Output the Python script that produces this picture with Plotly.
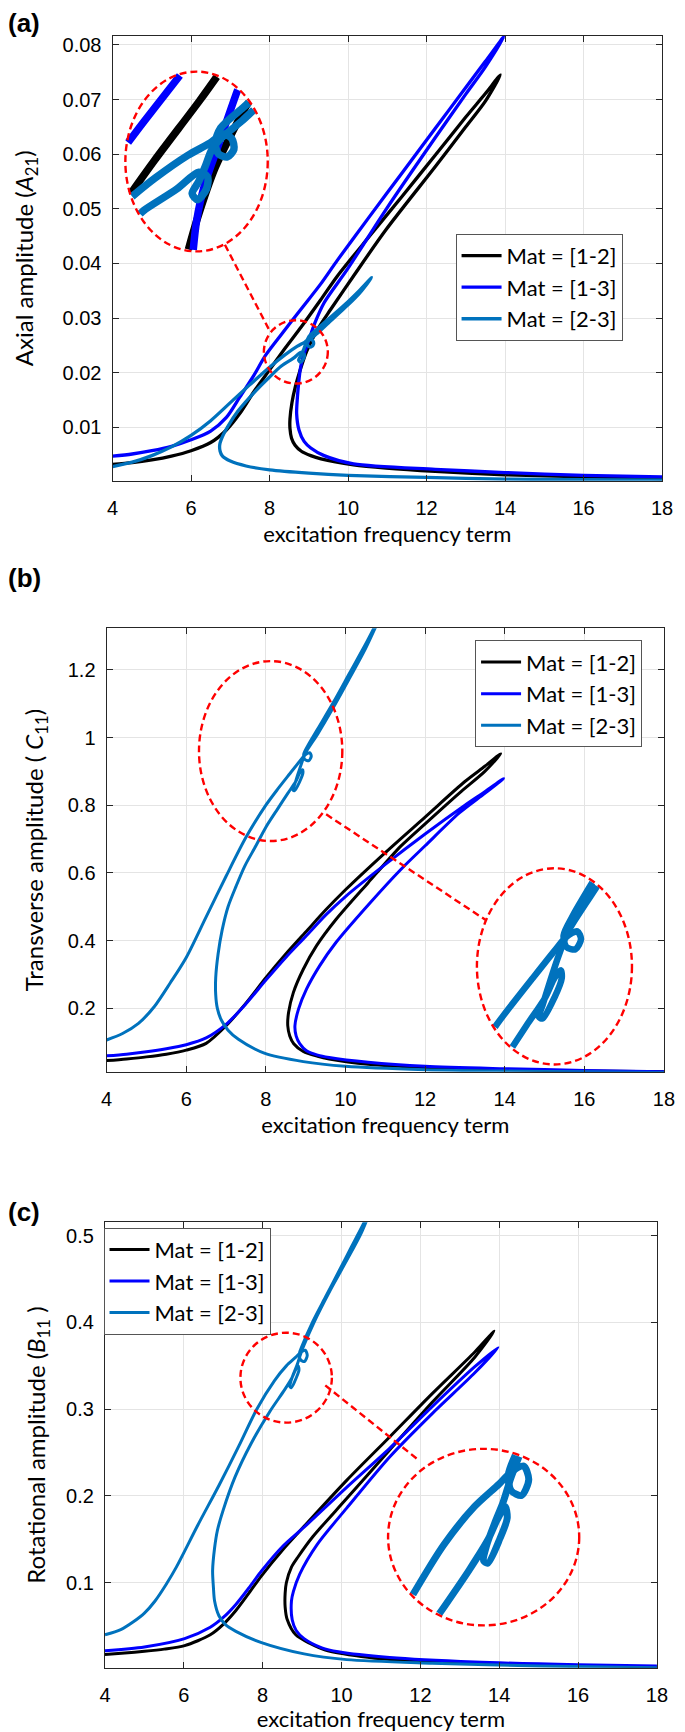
import plotly.graph_objects as go

W, H = 685, 1732

# ---------------- data : panel (a) axial amplitude A21 ----------------
a12_x = [4, 4.5, 5, 5.5, 6, 6.5, 6.9, 7.24, 7.6, 8.0, 8.4, 8.81, 9.3, 9.73, 10.56, 11.39, 12.22, 13.0, 13.5, 13.88,
         13.5, 13.0, 12.22, 10.97, 10.14, 9.56, 9.23, 8.95, 8.78, 8.66, 8.57,
         8.52, 8.52, 8.56, 8.65, 8.81, 9.05, 9.31, 10.14, 10.97, 12.22, 14, 16, 18]
a12_y = [0.0032, 0.0035, 0.0040, 0.0047, 0.0057, 0.0072, 0.0095, 0.0125, 0.0165, 0.0205, 0.0245, 0.0284, 0.0333, 0.0377, 0.0451, 0.0524, 0.0598, 0.0668, 0.0711, 0.0745,
         0.0697, 0.0650, 0.0577, 0.0462, 0.0377, 0.0316, 0.0280, 0.0240, 0.0205, 0.0175, 0.0145,
         0.0115, 0.0098, 0.0080, 0.0067, 0.0056, 0.0048, 0.0042, 0.0031, 0.0025, 0.0019, 0.0013, 0.0009, 0.0006]

a13_x = [4, 4.5, 5, 5.5, 6, 6.5, 6.9, 7.24, 7.6, 7.9, 8.3, 8.81, 9.3, 9.73, 10.56, 11.39, 12.22, 13.0, 13.5, 13.97,
         13.5, 13.0, 12.22, 10.97, 9.98, 9.39, 9.15, 8.98, 8.85, 8.78, 8.74, 8.71,
         8.69, 8.75, 8.88, 9.05, 9.39, 10.14, 12.22, 14, 16, 18]
a13_y = [0.0047, 0.0051, 0.0057, 0.0065, 0.0077, 0.0093, 0.0118, 0.0155, 0.0195, 0.0232, 0.0270, 0.0317, 0.0362, 0.0406, 0.0487, 0.0567, 0.0647, 0.0722, 0.0770, 0.0815,
         0.0760, 0.0710, 0.0630, 0.0499, 0.0389, 0.0328, 0.0290, 0.0255, 0.0228, 0.0205, 0.0180, 0.0155,
         0.0125, 0.0095, 0.0074, 0.0062, 0.0048, 0.0033, 0.0023, 0.0017, 0.0012, 0.0009]

a23_x = [4, 4.5, 5, 5.5, 6, 6.5, 7, 7.5, 8, 8.4, 8.7, 8.9,
         9.02, 9.1, 9.12, 9.06, 8.98, 8.95,
         9.0, 9.2, 9.5, 10.0, 10.3, 10.6,
         10.3, 10.0, 9.5, 9.2, 9.0, 8.92,
         8.86, 8.80, 8.74, 8.79, 8.87, 8.88, 8.80,
         8.6, 8.3, 8.0, 7.6, 7.2, 6.95, 6.8, 6.73, 6.74, 6.8, 7.0, 7.4, 8, 9, 10, 12, 14, 16, 18]
a23_y = [0.0028, 0.0036, 0.0048, 0.0064, 0.0085, 0.0112, 0.0145, 0.0178, 0.0210, 0.0233, 0.0248, 0.0256,
         0.0262, 0.0259, 0.0252, 0.0247, 0.0249, 0.0256,
         0.0266, 0.0279, 0.0298, 0.0330, 0.0351, 0.0374,
         0.0346, 0.0324, 0.0291, 0.0271, 0.0259, 0.0252,
         0.0241, 0.0231, 0.0223, 0.0219, 0.0226, 0.0234, 0.0237,
         0.0226, 0.0212, 0.0192, 0.0163, 0.0130, 0.0103, 0.0083, 0.0068, 0.0056, 0.0047, 0.0038, 0.0029, 0.0022, 0.0016, 0.0012, 0.0008, 0.0005, 0.0004, 0.0003]

# ---------------- data : panel (b) transverse amplitude C11 ----------------
b12_x = [4, 4.5, 5, 5.5, 6, 6.5, 7, 7.5, 8, 8.5, 9, 9.5, 10, 11, 12, 13, 13.5, 13.9,
         13.5, 12.86, 12.0, 11.39, 10.57, 9.76, 9.27, 8.94, 8.69, 8.57, 8.55, 8.6, 8.7, 8.94, 9.3, 9.59, 10.57, 12, 14, 16, 18]
b12_y = [0.045, 0.050, 0.056, 0.064, 0.076, 0.096, 0.148, 0.215, 0.290, 0.360, 0.425, 0.490, 0.550, 0.660, 0.765, 0.870, 0.915, 0.952,
         0.900, 0.836, 0.745, 0.679, 0.571, 0.462, 0.384, 0.315, 0.246, 0.187, 0.148, 0.118, 0.095, 0.072, 0.058, 0.050, 0.034, 0.024, 0.018, 0.014, 0.012]

b13_x = [4, 4.5, 5, 5.5, 6, 6.5, 7, 7.5, 8, 8.5, 9, 9.5, 10, 11, 12, 13, 13.5, 13.97,
         13.5, 12.86, 12.0, 11.39, 10.57, 9.76, 9.35, 9.02, 8.82, 8.73, 8.76, 8.85, 9.02, 9.3, 9.59, 10.57, 12, 14, 16, 18]
b13_y = [0.059, 0.064, 0.071, 0.080, 0.092, 0.112, 0.152, 0.213, 0.283, 0.350, 0.412, 0.475, 0.530, 0.625, 0.715, 0.800, 0.840, 0.879,
         0.835, 0.777, 0.680, 0.610, 0.505, 0.394, 0.325, 0.256, 0.197, 0.148, 0.118, 0.095, 0.074, 0.061, 0.054, 0.040, 0.028, 0.021, 0.016, 0.012]

b23_x = [4, 4.4, 4.8, 5.2, 5.6, 6.0, 6.5, 7.0, 7.5, 8.0, 8.3, 8.6, 8.85,
         8.98, 9.1, 9.14, 9.08, 8.98, 8.95,
         9.05, 9.3, 9.7, 10.1, 10.5, 10.9,
         10.5, 10.1, 9.7, 9.3, 9.0, 8.9,
         8.8, 8.72, 8.68, 8.72, 8.85, 8.93, 8.92, 8.85, 8.75,
         8.55, 8.3, 8.0, 7.75, 7.47, 7.25, 7.05, 6.9, 6.8, 6.74, 6.74, 6.78, 6.88, 7.05, 7.31, 7.96, 8.94, 10, 12, 14, 16, 18]
b23_y = [0.106, 0.125, 0.155, 0.205, 0.275, 0.350, 0.470, 0.590, 0.705, 0.800, 0.848, 0.893, 0.930,
         0.948, 0.955, 0.945, 0.932, 0.935, 0.950,
         0.975, 1.025, 1.105, 1.190, 1.275, 1.365,
         1.262, 1.175, 1.090, 1.010, 0.955, 0.925,
         0.890, 0.860, 0.845, 0.843, 0.870, 0.895, 0.905, 0.895, 0.870,
         0.835, 0.790, 0.735, 0.680, 0.620, 0.560, 0.500, 0.430, 0.360, 0.290, 0.240, 0.200, 0.165, 0.135, 0.108, 0.067, 0.042, 0.028, 0.018, 0.014, 0.012, 0.010]

# ---------------- data : panel (c) rotational amplitude B11 ----------------
c12_x = [4, 4.5, 5, 5.5, 6.02, 6.67, 7.0, 7.32, 7.65, 7.97, 8.51, 9.05, 10.13, 11.22, 12.3, 13.38, 13.87,
         13.38, 12.3, 11.22, 10.13, 9.27, 8.9, 8.73, 8.6, 8.57, 8.57, 8.62, 8.84, 9.2, 9.59, 10.5, 11.22, 13.38, 16, 18]
c12_y = [0.0173, 0.019, 0.021, 0.0235, 0.0275, 0.040, 0.052, 0.068, 0.088, 0.108, 0.138, 0.165, 0.218, 0.268, 0.318, 0.366, 0.390,
         0.360, 0.308, 0.253, 0.197, 0.153, 0.130, 0.118, 0.100, 0.088, 0.072, 0.058, 0.040, 0.030, 0.0225, 0.015, 0.0116, 0.0073, 0.0045, 0.003]

c13_x = [4, 5, 6.02, 6.67, 7.0, 7.32, 7.65, 7.97, 8.51, 9.05, 10.13, 11.22, 12.3, 13.38, 13.97,
         13.38, 12.3, 11.22, 10.13, 9.38, 8.94, 8.78, 8.73, 8.75, 8.85, 9.05, 9.5, 9.92, 11.22, 13.38, 16, 18]
c13_y = [0.0217, 0.026, 0.0356, 0.0487, 0.060, 0.075, 0.094, 0.1135, 0.142, 0.164, 0.210, 0.255, 0.303, 0.349, 0.371,
         0.342, 0.295, 0.245, 0.186, 0.144, 0.110, 0.090, 0.079, 0.057, 0.045, 0.0356, 0.025, 0.0204, 0.0138, 0.0086, 0.0055, 0.004]

c23_x = [4, 4.4, 4.72, 5.0, 5.27, 5.55, 5.81, 6.35, 6.9, 7.4, 7.85, 8.3, 8.6, 8.84,
         8.95, 9.08, 9.13, 9.06, 8.96, 8.93,
         9.0, 9.27, 9.6, 9.92, 10.25, 10.57, 10.8,
         10.5, 10.1, 9.7, 9.3, 9.05, 8.95, 8.88,
         8.8, 8.72, 8.69, 8.73, 8.85, 8.92, 8.9, 8.82, 8.74,
         8.55, 8.19, 7.7, 7.3, 7.0, 6.85, 6.78, 6.73, 6.75, 6.78, 6.89, 7.05, 7.32, 7.97, 9.05, 10.13, 12.3, 15, 18]
c23_y = [0.040, 0.046, 0.055, 0.065, 0.079, 0.098, 0.118, 0.166, 0.213, 0.258, 0.300, 0.333, 0.350, 0.360,
         0.365, 0.368, 0.362, 0.355, 0.357, 0.364,
         0.373, 0.401, 0.430, 0.458, 0.487, 0.515, 0.537,
         0.503, 0.469, 0.436, 0.400, 0.374, 0.362, 0.352,
         0.343, 0.333, 0.326, 0.325, 0.336, 0.345, 0.350, 0.344, 0.336,
         0.322, 0.298, 0.260, 0.222, 0.184, 0.160, 0.140, 0.114, 0.095, 0.079, 0.062, 0.052, 0.044, 0.031, 0.018, 0.0114, 0.0072, 0.004, 0.002]

series_names = ["Mat = [1-2]", "Mat = [1-3]", "Mat = [2-3]"]
series_colors = ["#000000", "#0000FF", "#0072BD"]
x_ticks = [4, 6, 8, 10, 12, 14, 16, 18]
a_yticks = [0.01, 0.02, 0.03, 0.04, 0.05, 0.06, 0.07, 0.08]
b_yticks = [0.2, 0.4, 0.6, 0.8, 1.0, 1.2]
b_ytext = ["0.2", "0.4", "0.6", "0.8", "1", "1.2"]
c_yticks = [0.1, 0.2, 0.3, 0.4, 0.5]

panels = [
    dict(data=[(a12_x, a12_y), (a13_x, a13_y), (a23_x, a23_y)],
         box=(109.3, 672.7, 33.7, 479.3), yr=[0.0002, 0.0817], yt=a_yticks, ytt=[str(v) for v in a_yticks],
         ytitle="Axial amplitude (<i>A</i><sub>21</sub>)", ystand=22,
         legend=(461, 232), label="(a)", label_y=21,
         small=(8.67, 0.0238, 0.815, 0.0058),
         inset=(195.4, 159.7, 73, 90, 8.78, 0.0244, 2.8),
         conn=((224.5, 243.0), (269.3, 327.2)), inset_series=[0, 1, 2], main_w=3.3, inset_w=7.5),
    dict(data=[(b12_x, b12_y), (b13_x, b13_y), (b23_x, b23_y)],
         box=(103.2, 674.7, 627, 1071), yr=[0.012, 1.323], yt=b_yticks, ytt=b_ytext,
         ytitle="Transverse amplitude ( <i>C</i><sub>11</sub>)", ystand=17,
         legend=(481, 639), label="(b)", label_y=577,
         small=(8.12, 0.96, 1.80, 0.266),
         inset=(562.4, 965.5, 79.5, 98.2, 8.85, 0.91, 2.3),
         conn=((328.3, 813.3), (491.5, 918.8)), inset_series=[2], main_w=3, inset_w=6.5),
    dict(data=[(c12_x, c12_y), (c13_x, c13_y), (c23_x, c23_y)],
         box=(101.5, 667.5, 1221.7, 1667.7), yr=[0.002, 0.5155], yt=c_yticks, ytt=[str(v) for v in c_yticks],
         ytitle="Rotational amplitude (<i>B</i><sub>11</sub> )", ystand=13,
         legend=(100, 1227), label="(c)", label_y=1211,
         small=(8.595, 0.3364, 1.16, 0.0518),
         inset=(489.8, 1536.9, 98, 88.4, 8.69, 0.3365, 2.6),
         conn=((327.4, 1385.0), (421.5, 1458.6)), inset_series=[2], main_w=3, inset_w=7),
]


def px2px(px):
    return px / W


def py2py(py):
    return 1 - py / H


def clip_ellipse(xs, ys, cx, cy, hx, hy):
    ox, oy = [], []
    last_in = False
    for i in range(len(xs) - 1):
        x0, y0, x1, y1 = xs[i], ys[i], xs[i + 1], ys[i + 1]
        a0, b0 = (x0 - cx) / hx, (y0 - cy) / hy
        da, db = (x1 - cx) / hx - a0, (y1 - cy) / hy - b0
        A = da * da + db * db
        B = 2 * (a0 * da + b0 * db)
        C = a0 * a0 + b0 * b0 - 1
        ts = [0.0]
        if A > 0:
            D = B * B - 4 * A * C
            if D > 0:
                s = D ** 0.5
                for t in sorted([(-B - s) / (2 * A), (-B + s) / (2 * A)]):
                    if 0 < t < 1:
                        ts.append(t)
        ts.append(1.0)
        for k in range(len(ts) - 1):
            tm = 0.5 * (ts[k] + ts[k + 1])
            am, bm = a0 + tm * da, b0 + tm * db
            if am * am + bm * bm <= 1:
                if not last_in:
                    ox.append(x0 + ts[k] * (x1 - x0))
                    oy.append(y0 + ts[k] * (y1 - y0))
                ox.append(x0 + ts[k + 1] * (x1 - x0))
                oy.append(y0 + ts[k + 1] * (y1 - y0))
                last_in = True
            else:
                if last_in:
                    ox.append(None)
                    oy.append(None)
                last_in = False
    return ox, oy


fig = go.Figure()
layout = dict(width=W, height=H, margin=dict(l=0, r=0, t=0, b=0),
              paper_bgcolor="white", plot_bgcolor="rgba(0,0,0,0)", showlegend=True)
shapes, annotations = [], []
AX = "#262626"
TICKFONT = dict(family="Liberation Sans, Arial, sans-serif", size=20, color="black")
XTITLEFONT = dict(family="Lato, sans-serif", size=22, color="black")
YTITLEFONT = dict(family="Lato, sans-serif", size=24, color="black")
RED = "#FF0000"
DASH = "7px,4px"

for i, p in enumerate(panels):
    n = i + 1
    sfx = "" if n == 1 else str(n)
    xl, xr, yt_, yb = p["box"]
    xdom = [px2px(xl), px2px(xr)]
    ydom = [py2py(yb), py2py(yt_)]
    leg = "legend" if n == 1 else "legend%d" % n
    for k, (xs, ys) in enumerate(p["data"]):
        fig.add_trace(go.Scatter(x=xs, y=ys, mode="lines", name=series_names[k],
                                 line=dict(color=series_colors[k], width=p["main_w"], shape="spline", smoothing=0.8),
                                 xaxis="x" + sfx, yaxis="y" + sfx, legend=leg, hoverinfo="skip"))
    layout["xaxis" + sfx] = dict(domain=xdom, range=[4, 18], anchor="y" + sfx, tickvals=x_ticks,
                                 ticks="inside", ticklen=6, tickcolor=AX, tickwidth=1,
                                 showline=True, linecolor=AX, linewidth=1.2, mirror="ticks",
                                 showgrid=True, gridcolor="#e4e4e4", gridwidth=1, zeroline=False,
                                 tickfont=TICKFONT, ticklabelstandoff=9,
                                 title=dict(text="excitation frequency term", font=XTITLEFONT, standoff=8))
    layout["yaxis" + sfx] = dict(domain=ydom, range=p["yr"], anchor="x" + sfx, tickvals=p["yt"], ticktext=p["ytt"],
                                 ticks="inside", ticklen=6, tickcolor=AX, tickwidth=1,
                                 showline=True, linecolor=AX, linewidth=1.2, mirror="ticks",
                                 showgrid=True, gridcolor="#e4e4e4", gridwidth=1, zeroline=False,
                                 tickfont=TICKFONT, ticklabelstandoff=6,
                                 title=dict(text=p["ytitle"], font=YTITLEFONT, standoff=p["ystand"]))
    lx, ly = p["legend"]
    layout[leg] = dict(x=px2px(lx), y=py2py(ly), xanchor="left", yanchor="top", bgcolor="white",
                       bordercolor="#555555", borderwidth=1, font=dict(family="Lato, sans-serif", size=22, color="black"),
                       tracegroupgap=0, itemwidth=40)

    # panel label
    annotations.append(dict(text="<b>%s</b>" % p["label"], x=0, y=py2py(p["label_y"]), xref="paper", yref="paper",
                            xanchor="left", yanchor="middle", showarrow=False,
                            font=dict(family="Liberation Sans, Arial", size=26, color="black")))

    # small dashed ellipse around the feature
    cx, cy, rx, ry = p["small"]
    shapes.append(dict(type="circle", xref="x" + sfx, yref="y" + sfx, x0=cx - rx, x1=cx + rx, y0=cy - ry, y1=cy + ry,
                       line=dict(color=RED, width=2.4, dash=DASH), layer="above"))

    # magnified inset (same series, drawn on an enlarged axis pair, clipped to the ellipse)
    icx, icy, irx, iry, dcx, dcy, mag = p["inset"]
    ni = n + 3
    xscale = (xr - xl) / 14.0
    yscale = (yb - yt_) / (p["yr"][1] - p["yr"][0])
    hx = irx / (mag * xscale)
    hy = iry / (mag * yscale)
    layout["xaxis%d" % ni] = dict(domain=[px2px(icx - irx), px2px(icx + irx)], range=[dcx - hx, dcx + hx],
                                  anchor="y%d" % ni, visible=False, showgrid=False, zeroline=False)
    layout["yaxis%d" % ni] = dict(domain=[py2py(icy + iry), py2py(icy - iry)], range=[dcy - hy, dcy + hy],
                                  anchor="x%d" % ni, visible=False, showgrid=False, zeroline=False)
    for k in p["inset_series"]:
        xs, ys = p["data"][k]
        cxs, cys = clip_ellipse(xs, ys, dcx, dcy, hx * 0.985, hy * 0.985)
        fig.add_trace(go.Scatter(x=cxs, y=cys, mode="lines", showlegend=False, hoverinfo="skip",
                                 line=dict(color=series_colors[k], width=p["inset_w"], shape="spline", smoothing=0.8),
                                 xaxis="x%d" % ni, yaxis="y%d" % ni))
    shapes.append(dict(type="circle", xref="x%d domain" % ni, yref="y%d domain" % ni, x0=0, x1=1, y0=0, y1=1,
                       line=dict(color=RED, width=2.4, dash=DASH), layer="above"))
    (c0x, c0y), (c1x, c1y) = p["conn"]
    shapes.append(dict(type="line", xref="paper", yref="paper", x0=px2px(c0x), y0=py2py(c0y),
                       x1=px2px(c1x), y1=py2py(c1y), line=dict(color=RED, width=2.4, dash=DASH), layer="above"))

layout["shapes"] = shapes
layout["annotations"] = annotations
fig.update_layout(**layout)
fig.write_html("out.html", config={"displayModeBar": False},
               post_script="document.body.style.margin='0';")
